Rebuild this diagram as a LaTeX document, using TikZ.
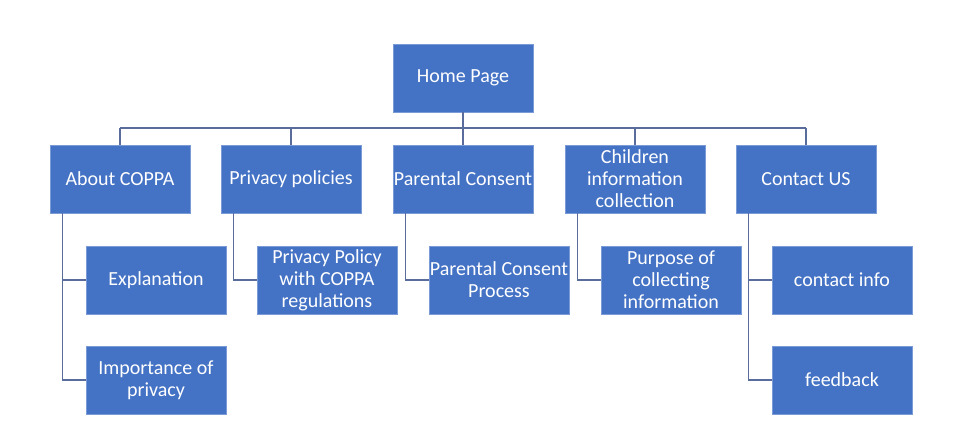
\documentclass[tikz,border=0pt]{standalone}
\usepackage{fontspec}
\setmainfont{Carlito}
\definecolor{boxfill}{HTML}{4472C4}
\definecolor{boxedge}{HTML}{7B9BD6}
\definecolor{linkcol}{HTML}{5A6C9C}
\begin{document}
\begin{tikzpicture}[x=1pt,y=-1pt,
  box/.style={rectangle, fill=boxfill, draw=boxedge, line width=0.6pt,
    minimum width=140pt, minimum height=68pt, inner sep=0pt, align=center,
    text=white, font=\fontsize{20}{22}\selectfont},
  link/.style={draw=linkcol, line width=1.4pt}]
\useasboundingbox (0,0) rectangle (973,436);
\node[box] (home) at (463,78) {Home Page};
\node[box] (about) at (120,179) {About COPPA};
\node[box] (priv) at (291,179) {Privacy policies};
\node[box] (parc) at (463,179) {Parental Consent};
\node[box] (child) at (635,179) {Children\\information\\collection};
\node[box] (cont) at (806,179) {Contact US};
\node[box] (expl) at (156,280) {Explanation};
\node[box] (imp) at (156,380) {Importance of\\privacy};
\node[box] (ppc) at (327,280) {Privacy Policy\\with COPPA\\regulations};
\node[box] (pcp) at (499,280) {Parental Consent\\Process};
\node[box] (purp) at (671,280) {Purpose of\\collecting\\information};
\node[box] (cinfo) at (842,280) {contact info};
\node[box] (fb) at (842,380) {feedback};
\coordinate (bus) at (463,128);
\draw[link] (home.south) -- (home.south |- bus);
\draw[link] (about.north |- bus) -- (cont.north |- bus);
\foreach \n in {about,priv,parc,child,cont}
  \draw[link] (\n.north |- bus) -- (\n.north);
\draw[link] ([xshift=13pt]about.south west) |- (expl.west);
\draw[link] ([xshift=13pt]about.south west) |- (imp.west);
\draw[link] ([xshift=13pt]priv.south west) |- (ppc.west);
\draw[link] ([xshift=13pt]parc.south west) |- (pcp.west);
\draw[link] ([xshift=13pt]child.south west) |- (purp.west);
\draw[link] ([xshift=13pt]cont.south west) |- (cinfo.west);
\draw[link] ([xshift=13pt]cont.south west) |- (fb.west);
\end{tikzpicture}
\end{document}
